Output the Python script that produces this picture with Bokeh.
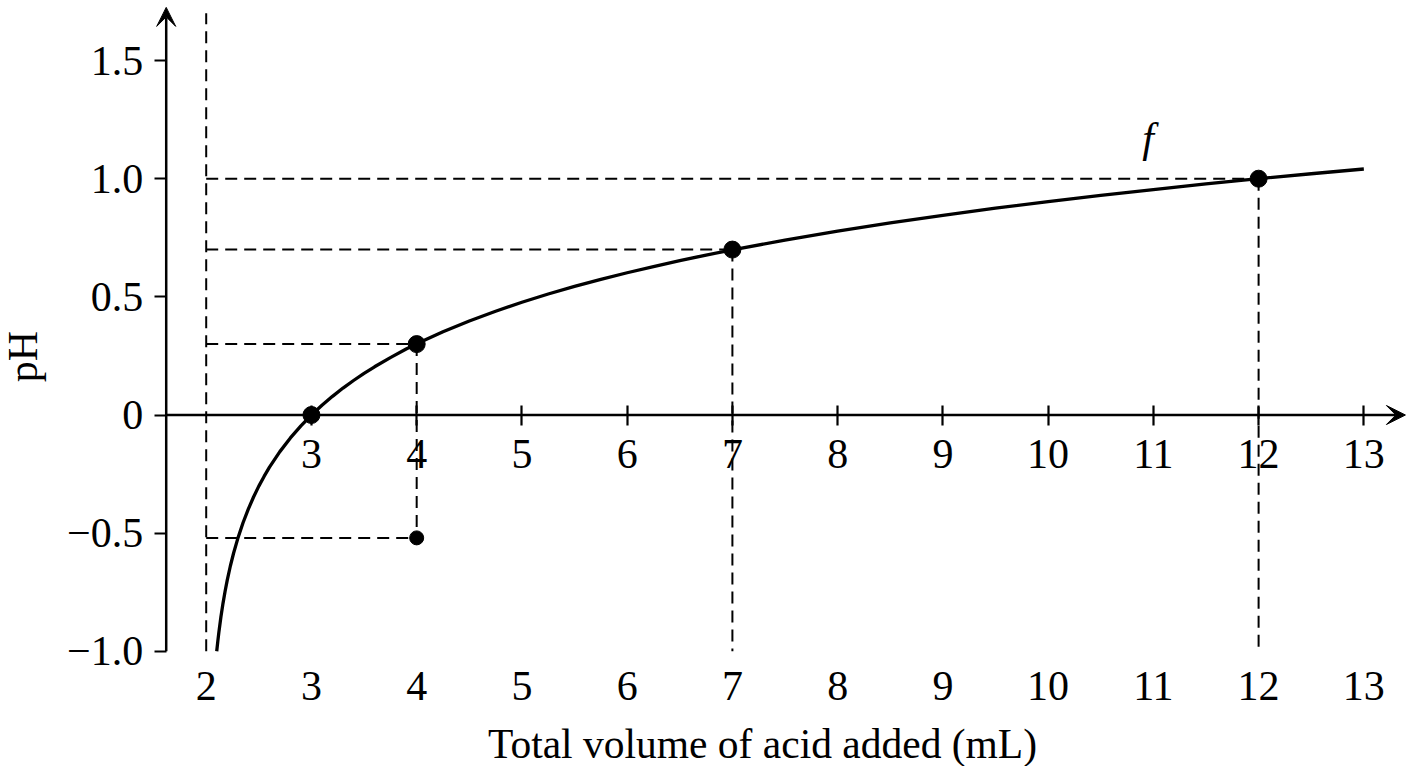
import math
from bokeh.plotting import figure
from bokeh.models import Range1d, LinearAxis, FixedTicker, Arrow, VeeHead, Label
from bokeh.embed import file_html
from bokeh.resources import INLINE

# ---- data ----
curve_x = [2.10, 2.11, 2.12, 2.14, 2.16, 2.18, 2.20, 2.23, 2.26, 2.30, 2.35, 2.40, 2.45,
           2.50, 2.55, 2.60, 2.70, 2.80, 2.90, 3.00, 3.10, 3.20, 3.30, 3.40, 3.50, 3.60,
           3.75, 3.90, 4.00, 4.25, 4.50, 4.75, 5.00, 5.25, 5.50, 5.75, 6.00, 6.25, 6.50,
           6.75, 7.00, 7.50, 8.00, 8.50, 9.00, 9.50, 10.0, 10.5, 11.0, 11.5, 12.0, 12.5,
           13.0]
curve_y = [-1.000, -0.959, -0.921, -0.854, -0.796, -0.745, -0.699, -0.638, -0.585, -0.523,
           -0.456, -0.398, -0.347, -0.301, -0.260, -0.222, -0.155, -0.097, -0.046, 0.000,
           0.041, 0.079, 0.114, 0.146, 0.176, 0.204, 0.243, 0.279, 0.301, 0.352, 0.398,
           0.439, 0.477, 0.512, 0.544, 0.574, 0.602, 0.628, 0.653, 0.677, 0.699, 0.740,
           0.778, 0.813, 0.845, 0.875, 0.903, 0.929, 0.954, 0.978, 1.000, 1.021, 1.041]

point_x = [3, 4, 7, 12]
point_y = [0.00, 0.30, 0.70, 1.00]
extra_point_x = [4]
extra_point_y = [-0.52]

asymptote_x = 2
asymptote_y = [-1.0, 1.70]

h_guide_y = [1.00, 0.70, 0.30, -0.52]
h_guide_x_end = [12, 7, 4, 4]
v_guide_x = [4, 7, 12]
v_guide_top = [0.30, 0.70, 1.00]
v_guide_bottom = [-0.52, -1.0, -1.0]

y_ticks = [-1.0, -0.5, 0, 0.5, 1.0, 1.5]
y_tick_labels = ["\u22121.0", "\u22120.5", "0", "0.5", "1.0", "1.5"]
x_axis_ticks = [3, 4, 5, 6, 7, 8, 9, 10, 11, 12, 13]
x_bottom_ticks = [2, 3, 4, 5, 6, 7, 8, 9, 10, 11, 12, 13]

x_title = "Total volume of acid added (mL)"
y_title = "pH"
curve_name = "f"

# axis geometry (data units)
Y_AXIS_AT = 1.62        # where the pH axis stands
Y_AXIS_TOP = 1.725      # tip of its arrow
Y_AXIS_BOTTOM = -1.0
X_AXIS_RIGHT = 13.395   # tip of the volume axis arrow

FONT = "Liberation Serif"
FS = "42px"
W, H = 1406, 766
PX_X = 105.24
PX_Y = 236.3
X0 = 2 - 205.7 / PX_X
X1 = X0 + W / PX_X
Y1 = 414.5 / PX_Y
Y0 = Y1 - H / PX_Y

p = figure(width=W, height=H, x_range=Range1d(X0, X1), y_range=Range1d(Y0, Y1),
           output_backend="svg", toolbar_location=None,
           x_axis_location=None, y_axis_location=None, min_border=0)
p.title.visible = False
p.outline_line_color = None
p.grid.visible = False
p.background_fill_color = "white"
p.border_fill_color = "white"


def style_labels(ax):
    ax.major_label_text_font = FONT
    ax.major_label_text_font_size = FS
    ax.major_label_text_color = "black"
    ax.minor_tick_line_color = None
    ax.minor_tick_out = 0
    ax.minor_tick_in = 0


# bottom labels row (no line, no ticks) at pH = -1.0
bx = LinearAxis(fixed_location=Y_AXIS_BOTTOM, ticker=FixedTicker(ticks=x_bottom_ticks))
style_labels(bx)
bx.axis_line_color = None
bx.major_tick_line_color = None
bx.major_tick_out = 0
bx.major_tick_in = 0
bx.major_label_standoff = 21
p.add_layout(bx, "below")

# x axis at pH = 0
xa = LinearAxis(fixed_location=0, ticker=FixedTicker(ticks=x_axis_ticks))
style_labels(xa)
xa.axis_line_color = None
xa.major_tick_line_width = 2.2
xa.major_tick_line_color = "black"
xa.major_tick_in = 10
xa.major_tick_out = 10
xa.major_label_standoff = 15
p.add_layout(xa, "below")

# pH axis
ya = LinearAxis(fixed_location=Y_AXIS_AT, ticker=FixedTicker(ticks=y_ticks))
style_labels(ya)
ya.major_label_overrides = {t: s for t, s in zip(y_ticks, y_tick_labels)}
ya.axis_line_color = None
ya.major_tick_line_width = 2.2
ya.major_tick_line_color = "black"
ya.major_tick_out = 12
ya.major_tick_in = 0
ya.major_label_standoff = 11
p.add_layout(ya, "left")

# axis lines with arrow heads
p.add_layout(Arrow(x_start=Y_AXIS_AT, y_start=0, x_end=X_AXIS_RIGHT, y_end=0,
                   line_width=2.5, line_color="black",
                   end=VeeHead(size=19, fill_color="black", line_color="black",
                               line_width=1)))
p.add_layout(Arrow(x_start=Y_AXIS_AT, y_start=Y_AXIS_BOTTOM, x_end=Y_AXIS_AT, y_end=Y_AXIS_TOP,
                   line_width=2.5, line_color="black",
                   end=VeeHead(size=19, fill_color="black", line_color="black",
                               line_width=1)))

DASH = "12 7"
LW_D = 2.0
# asymptote
p.line([asymptote_x, asymptote_x], asymptote_y, line_color="black", line_width=LW_D,
       line_dash=DASH)
# horizontal guides
p.segment(x0=[asymptote_x] * len(h_guide_y), y0=h_guide_y, x1=h_guide_x_end, y1=h_guide_y,
          line_color="black", line_width=LW_D, line_dash=DASH)
# vertical guides
p.segment(x0=v_guide_x, y0=v_guide_top, x1=v_guide_x, y1=v_guide_bottom,
          line_color="black", line_width=LW_D, line_dash=DASH)

# curve f
p.line(curve_x, curve_y, line_color="black", line_width=3.3)

# points
p.scatter(point_x, point_y, size=17, color="black")
p.scatter(extra_point_x, extra_point_y, size=14, color="black")

# texts
p.add_layout(Label(x=10.95, y=1.174, text=curve_name, text_font=FONT, text_font_size=FS,
                   text_font_style="italic", text_align="center", text_baseline="middle",
                   text_color="black"))
p.add_layout(Label(x=2 - (205.7 - 22) / PX_X, y=0.2476, text=y_title, text_font=FONT,
                   text_font_size=FS, angle=math.pi / 2, text_align="center",
                   text_baseline="middle", text_color="black"))
p.add_layout(Label(x=2 + (762 - 205.7) / PX_X, y=(414.5 - 743) / PX_Y, text=x_title,
                   text_font=FONT, text_font_size="41.5px", text_align="center",
                   text_baseline="middle", text_color="black"))

open("out.html", "w").write(file_html(p, INLINE))
